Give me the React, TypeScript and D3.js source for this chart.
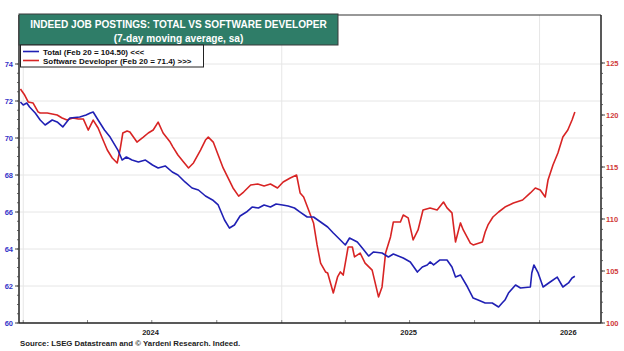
import React from "react";
import * as d3 from "d3";

const totalDates = ["2023-12-28","2024-01-01","2024-01-06","2024-01-10","2024-01-18","2024-01-25","2024-02-01","2024-02-11","2024-02-18","2024-02-26","2024-03-07","2024-03-21","2024-03-30","2024-04-05","2024-04-09","2024-04-16","2024-04-25","2024-05-03","2024-05-14","2024-05-20","2024-05-26","2024-06-03","2024-06-12","2024-06-22","2024-07-02","2024-07-10","2024-07-20","2024-07-30","2024-08-07","2024-08-17","2024-08-27","2024-09-05","2024-09-15","2024-09-25","2024-10-03","2024-10-12","2024-10-19","2024-10-26","2024-11-03","2024-11-12","2024-11-20","2024-11-29","2024-12-07","2024-12-16","2024-12-24","2025-01-02","2025-01-10","2025-01-19","2025-01-27","2025-02-06","2025-02-15","2025-02-25","2025-03-07","2025-03-15","2025-03-25","2025-04-01","2025-04-07","2025-04-18","2025-04-25","2025-05-04","2025-05-11","2025-05-23","2025-06-01","2025-06-08","2025-06-22","2025-07-02","2025-07-12","2025-07-19","2025-07-26","2025-07-30","2025-08-04","2025-08-13","2025-08-23","2025-08-30","2025-09-04","2025-09-11","2025-09-21","2025-09-29","2025-10-06","2025-10-16","2025-10-26","2025-11-04","2025-11-09","2025-11-13","2025-11-18","2025-11-28","2025-12-05","2025-12-19","2025-12-21","2025-12-24","2025-12-30","2026-01-06","2026-01-16","2026-01-26","2026-02-03","2026-02-11","2026-02-16","2026-02-20"];
const totalValues = [121.25,120.96,121.15,120.77,120.19,119.52,119.04,119.52,119.33,118.85,119.71,119.81,120.0,120.19,120.29,119.52,118.56,117.88,116.63,115.67,115.96,115.67,115.48,115.67,115.19,114.9,115.1,114.52,114.23,113.56,112.98,112.79,112.21,111.83,111.35,109.9,109.13,109.42,110.29,110.67,111.15,111.06,111.35,111.15,111.44,111.35,111.25,111.06,110.67,110.19,110.19,109.71,109.23,108.65,107.98,107.5,108.17,107.79,107.21,106.44,106.83,106.73,106.35,106.63,106.25,105.87,104.9,105.38,105.58,105.87,105.58,106.06,106.06,105.38,104.42,104.62,103.46,102.4,102.21,101.92,101.92,101.54,101.92,102.21,102.88,103.65,103.37,103.46,104.81,105.58,104.81,103.46,103.94,104.42,103.46,103.85,104.33,104.5];

const devDates = ["2023-12-28","2024-01-03","2024-01-08","2024-01-15","2024-01-22","2024-01-25","2024-02-04","2024-02-11","2024-02-18","2024-02-25","2024-03-03","2024-03-11","2024-03-19","2024-03-26","2024-04-02","2024-04-09","2024-04-16","2024-04-23","2024-04-29","2024-05-06","2024-05-13","2024-05-17","2024-05-21","2024-05-27","2024-05-31","2024-06-10","2024-06-19","2024-06-26","2024-07-03","2024-07-10","2024-07-17","2024-07-27","2024-07-31","2024-08-07","2024-08-15","2024-08-22","2024-08-29","2024-09-08","2024-09-15","2024-09-19","2024-09-26","2024-10-03","2024-10-10","2024-10-17","2024-10-24","2024-11-01","2024-11-08","2024-11-18","2024-11-28","2024-12-07","2024-12-16","2024-12-26","2025-01-03","2025-01-13","2025-01-22","2025-01-27","2025-02-01","2025-02-08","2025-02-15","2025-02-20","2025-02-25","2025-03-04","2025-03-07","2025-03-15","2025-03-21","2025-03-25","2025-03-29","2025-04-05","2025-04-11","2025-04-14","2025-04-22","2025-04-29","2025-05-09","2025-05-18","2025-05-23","2025-05-28","2025-06-04","2025-06-08","2025-06-18","2025-06-22","2025-06-29","2025-07-06","2025-07-13","2025-07-20","2025-07-30","2025-08-09","2025-08-18","2025-08-23","2025-08-30","2025-09-04","2025-09-11","2025-09-15","2025-09-25","2025-09-29","2025-10-12","2025-10-16","2025-10-20","2025-10-27","2025-11-04","2025-11-13","2025-11-25","2025-12-08","2025-12-19","2025-12-26","2026-01-02","2026-01-09","2026-01-13","2026-01-20","2026-01-27","2026-02-03","2026-02-10","2026-02-16","2026-02-20"];
const devValues = [72.65,72.32,71.95,71.89,71.41,71.35,71.35,71.3,71.24,71.08,70.97,71.08,71.03,71.03,70.43,70.97,70.54,69.89,69.35,68.92,68.65,69.35,70.27,70.38,70.32,69.78,70.05,70.27,70.43,70.86,70.27,69.78,69.51,69.08,68.7,68.38,68.65,69.35,69.89,70.05,69.78,69.08,68.38,67.84,67.3,66.86,67.08,67.46,67.51,67.41,67.51,67.3,67.62,67.84,68.0,67.03,66.81,66.11,65.41,64.22,63.24,62.76,62.7,61.62,62.49,62.76,62.59,64.11,64.11,63.57,63.78,63.24,62.86,61.41,61.95,63.78,64.65,65.46,65.46,65.84,65.68,64.49,65.03,66.11,66.22,66.11,66.54,66.22,65.95,64.38,65.41,65.03,64.32,64.22,64.38,64.92,65.3,65.73,66.0,66.27,66.49,66.65,67.03,67.3,67.19,66.81,67.73,68.54,69.19,70.05,70.43,70.97,71.4];

const leftTicks = [60, 62, 64, 66, 68, 70, 72, 74];
const rightTicks = [100, 105, 110, 115, 120, 125];
const yearLabels = ["2024", "2025", "2026"];
const titleText = "INDEED JOB POSTINGS: TOTAL VS SOFTWARE DEVELOPER";
const subtitleText = "(7-day moving average, sa)";
const legendLabels = ["Total (Feb 20 = 104.50) <<<", "Software Developer (Feb 20 = 71.4) >>>"];
const sourceText = "Source: LSEG Datastream and \u00A9 Yardeni Research. Indeed.";

const BLUE = "#2020b4";
const RED = "#d82424";
const FONT = "'Liberation Sans', Arial, sans-serif";

export default function App() {
  const W = 624, H = 351;
  const left = 19, right = 601, bottom = 323, top = 15;
  const parse = d3.timeParse("%Y-%m-%d");
  const x = d3.scaleTime().domain([new Date(2023, 11, 26), new Date(2026, 2, 29)]).range([left, right]);
  const yL = d3.scaleLinear().domain([60, 74]).range([bottom, 64]);
  const yR = d3.scaleLinear().domain([100, 125]).range([bottom, 63]);

  const total = totalDates.map((d, i) => ({ d: parse(d)!, v: totalValues[i] }));
  const dev = devDates.map((d, i) => ({ d: parse(d)!, v: devValues[i] }));
  const lineT = d3.line<any>().x(p => x(p.d)).y(p => yR(p.v));
  const lineD = d3.line<any>().x(p => x(p.d)).y(p => yL(p.v));

  const [d0, d1] = x.domain();
  const quarters = d3.timeMonth.every(3)!.range(d0, d1);
  const years = d3.timeYear.range(d0, d1);
  const leftMinor = d3.range(60, 74.01, 0.5);
  const rightMinor = d3.range(100, 125.01, 1);

  return (
    <svg width={W} height={H} style={{ position: "absolute", left: 0, top: 0, background: "#fff" }} fontFamily={FONT}>
      <rect x={0} y={0} width={W} height={H} fill="#fff" />
      {leftTicks.filter(t => t > 60).map(t => (
        <line key={"g" + t} x1={left} x2={right} y1={yL(t)} y2={yL(t)} stroke="#e6e6e6" strokeWidth={1} />
      ))}
      {years.map((yd, i) => (
        <line key={"vg" + i} x1={x(yd)} x2={x(yd)} y1={top} y2={bottom} stroke="#e6e6e6" strokeWidth={1} />
      ))}
      {quarters.map((q, i) => (
        <line key={"q" + i} x1={x(q)} x2={x(q)} y1={bottom} y2={bottom - 3} stroke="#888" strokeWidth={1} />
      ))}
      <path d={lineD(dev)!} fill="none" stroke={RED} strokeWidth={1.6} strokeLinejoin="round" />
      <path d={lineT(total)!} fill="none" stroke={BLUE} strokeWidth={1.6} strokeLinejoin="round" />
      <line x1={left} x2={right} y1={top} y2={top} stroke="#333" strokeWidth={1.2} />
      <line x1={right} x2={right} y1={top} y2={bottom} stroke="#222" strokeWidth={1.5} />
      <line x1={left} x2={left} y1={top} y2={bottom} stroke="#222" strokeWidth={1.5} />
      <line x1={left} x2={right} y1={bottom} y2={bottom} stroke="#222" strokeWidth={1.5} />
      {leftMinor.map((t, i) => (
        <line key={"lm" + i} x1={left - 2} x2={left} y1={yL(t)} y2={yL(t)} stroke="#444" strokeWidth={0.8} />
      ))}
      {leftTicks.map(t => (
        <g key={"lt" + t}>
          <line x1={left - 4} x2={left} y1={yL(t)} y2={yL(t)} stroke="#444" strokeWidth={1} />
          <text x={13} y={yL(t) + 2.7} textAnchor="end" fontSize={7.5} fontWeight="bold" fill="#3434c8">{t}</text>
        </g>
      ))}
      {rightMinor.map((t, i) => (
        <line key={"rm" + i} x1={right} x2={right + 2} y1={yR(t)} y2={yR(t)} stroke="#444" strokeWidth={0.8} />
      ))}
      {rightTicks.map(t => (
        <g key={"rt" + t}>
          <line x1={right} x2={right + 4} y1={yR(t)} y2={yR(t)} stroke="#444" strokeWidth={1} />
          <text x={606} y={yR(t) + 2.7} textAnchor="start" fontSize={7.5} fontWeight="bold" fill="#d03a3a">{t}</text>
        </g>
      ))}
      {yearLabels.map((lab) => {
        const s = new Date(+lab, 0, 1), e = new Date(+lab + 1, 0, 1);
        const a = x(s < d0 ? d0 : s), b = x(e > d1 ? d1 : e);
        return (
          <text key={lab} x={(a + b) / 2 - 2} y={335} textAnchor="middle" fontSize={7.5} fontWeight="bold" fill="#222">{lab}</text>
        );
      })}
      <rect x={left} y={14} width={319} height={31} fill="#2f7d68" stroke="#3a3a3a" strokeWidth={1} />
      <text x={178.5} y={28} textAnchor="middle" fontSize={10.1} fontWeight="bold" fill="#fff">{titleText}</text>
      <text x={178.5} y={41.5} textAnchor="middle" fontSize={10.1} fontWeight="bold" fill="#fff">{subtitleText}</text>
      <rect x={20.5} y={45} width={183} height={22} fill="#fff" stroke="#222" strokeWidth={1} />
      {legendLabels.map((lab, i) => (
        <g key={lab}>
          <line x1={23} x2={39} y1={51.5 + i * 9} y2={51.5 + i * 9} stroke={i === 0 ? BLUE : RED} strokeWidth={1.6} />
          <text x={43} y={54.5 + i * 9} fontSize={8} fontWeight="bold" fill="#111">{lab}</text>
        </g>
      ))}
      <text x={20} y={346} fontSize={7.8} fontWeight="bold" fill="#222">{sourceText}</text>
    </svg>
  );
}
